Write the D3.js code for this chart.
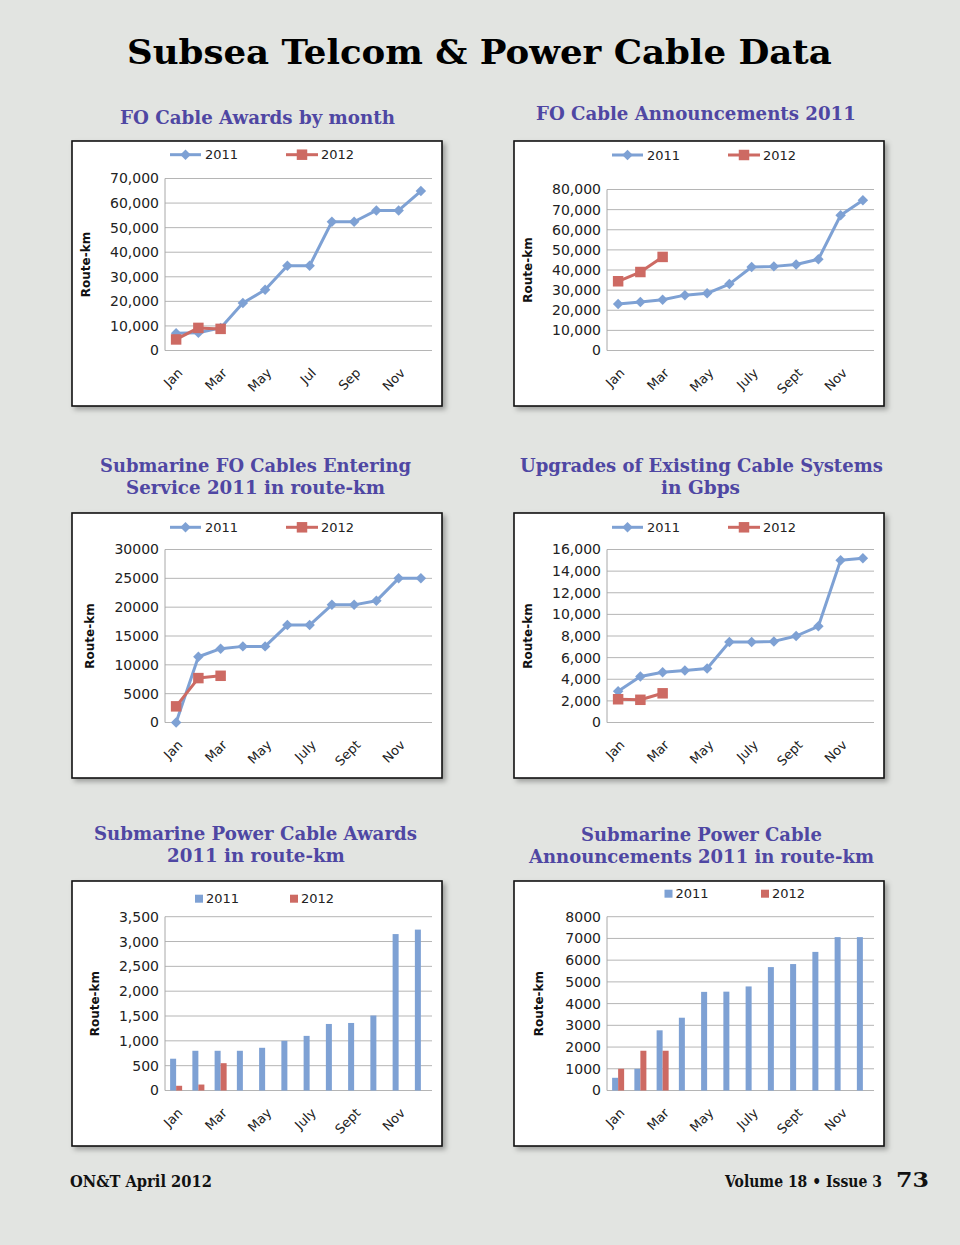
<!DOCTYPE html>
<html>
<head>
<meta charset="utf-8">
<script src="https://cdn.jsdelivr.net/npm/d3@7"></script>
<style>
  body { margin: 0; background: #e2e4e1; }
  svg { display: block; }
</style>
</head>
<body>
<svg id="page" width="960" height="1245"></svg>
<script>
// month categories and the tick labels used by the two label styles
const months = ["Jan", "Feb", "Mar", "Apr", "May", "Jun", "Jul", "Aug", "Sep", "Oct", "Nov", "Dec"];
const monthLabelsShort = ["Jan", "Feb", "Mar", "Apr", "May", "Jun", "Jul", "Aug", "Sep", "Oct", "Nov", "Dec"];
const monthLabelsLong = ["Jan", "Feb", "Mar", "Apr", "May", "June", "July", "Aug", "Sept", "Oct", "Nov", "Dec"];
const seriesNames = ["2011", "2012"];

// FO Cable Awards by month
const awards2011 = [7000, 7200, 9200, 19300, 24700, 34500, 34500, 52400, 52400, 57000, 57000, 64900];
const awards2012 = [4500, 9200, 8800];
// FO Cable Announcements 2011
const announce2011 = [23100, 24100, 25200, 27500, 28400, 33000, 41500, 41800, 42700, 45300, 67200, 74700];
const announce2012 = [34400, 39000, 46500];
// Submarine FO Cables Entering Service
const service2011 = [0, 11400, 12800, 13200, 13200, 16900, 16900, 20400, 20400, 21100, 25000, 25000];
const service2012 = [2800, 7700, 8100];
// Upgrades of Existing Cable Systems
const upgrades2011 = [2900, 4250, 4650, 4800, 5000, 7450, 7450, 7500, 8000, 8900, 15000, 15200];
const upgrades2012 = [2150, 2100, 2700];
// Submarine Power Cable Awards
const powerAwards2011 = [640, 800, 800, 800, 860, 1000, 1100, 1340, 1360, 1510, 3150, 3240];
const powerAwards2012 = [95, 120, 550];
// Submarine Power Cable Announcements
const powerAnn2011 = [585, 1000, 2770, 3350, 4540, 4550, 4790, 5680, 5820, 6380, 7060, 7060];
const powerAnn2012 = [1000, 1830, 1830];

// y axis ranges
const yMax = [70000, 80000, 30000, 16000, 3500, 8000];
const yStep = [10000, 10000, 5000, 2000, 500, 1000];

const c2011 = "#7ea1d4";
const c2012 = "#cd6a63";
const titleColor = "#4f47a3";

const svg = d3.select("#page");

const defs = svg.append("defs");
defs.append("filter")
  .attr("id", "shadow")
  .attr("x", "-5%").attr("y", "-5%")
  .attr("width", "115%").attr("height", "115%")
  .append("feDropShadow")
  .attr("dx", 3).attr("dy", 3)
  .attr("stdDeviation", 2.5)
  .attr("flood-color", "#000")
  .attr("flood-opacity", 0.3);

// serif text squeezed or stretched to the width it has on the page
function fitText(t, x, y, w, size, color) {
  const el = svg.append("text")
    .style("font-family", "DejaVu Serif").style("font-weight", "bold")
    .style("font-size", size + "px").attr("fill", color)
    .text(t);
  const len = el.node().getComputedTextLength();
  el.attr("transform", `translate(${x},${y}) scale(${w / len},1)`);
  return el;
}

// page title
fitText("Subsea Telcom & Power Cable Data", 127, 64, 705, 33, "#000");

const panels = [
  { x: 72, y: 141, type: "line", a: awards2011, b: awards2012, k: 0, fmt: d3.format(","),
    labels: monthLabelsShort, top: 37.5, yTitleX: 13.5, legendY: 13.7,
    title: [{ t: "FO Cable Awards by month", x: 120, y: 123.5, w: 275 }] },
  { x: 514, y: 141, type: "line", a: announce2011, b: announce2012, k: 1, fmt: d3.format(","),
    labels: monthLabelsLong, top: 48.5, yTitleX: 13.5, legendY: 14,
    title: [{ t: "FO Cable Announcements 2011", x: 536, y: 120, w: 320 }] },
  { x: 72, y: 513, type: "line", a: service2011, b: service2012, k: 2, fmt: d3.format("d"),
    labels: monthLabelsLong, top: 36.5, yTitleX: 18, legendY: 14.3,
    title: [{ t: "Submarine FO Cables Entering", x: 100, y: 472, w: 311 },
            { t: "Service 2011 in route-km", x: 126, y: 494, w: 259 }] },
  { x: 514, y: 513, type: "line", a: upgrades2011, b: upgrades2012, k: 3, fmt: d3.format(","),
    labels: monthLabelsLong, top: 36.5, yTitleX: 13.5, legendY: 14.3,
    title: [{ t: "Upgrades of Existing Cable Systems", x: 520, y: 472, w: 363 },
            { t: "in Gbps", x: 661, y: 494, w: 79 }] },
  { x: 72, y: 881, type: "bar", a: powerAwards2011, b: powerAwards2012, k: 4, fmt: d3.format(","),
    labels: monthLabelsLong, top: 35.7, yTitleX: 23, legendY: 17.7, legendX: [123, 218],
    title: [{ t: "Submarine Power Cable Awards", x: 94, y: 840, w: 323 },
            { t: "2011 in route-km", x: 167, y: 862, w: 178 }] },
  { x: 514, y: 881, type: "bar", a: powerAnn2011, b: powerAnn2012, k: 5, fmt: d3.format("d"),
    labels: monthLabelsLong, top: 35.7, yTitleX: 24.5, legendY: 12.7, legendX: [150.5, 247],
    title: [{ t: "Submarine Power Cable", x: 581, y: 841, w: 241 },
            { t: "Announcements 2011 in route-km", x: 529, y: 863, w: 345 }] }
];

const boxW = 370, boxH = 265;
const plotLeft = 93, plotRight = 360, plotBottom = 209.5;

panels.forEach(drawPanel);

function drawPanel(p) {
  // chart title above the box
  p.title.forEach(t => fitText(t.t, t.x, t.y, t.w, 18, titleColor));

  const g = svg.append("g").attr("transform", `translate(${p.x},${p.y})`);

  g.append("rect")
    .attr("width", boxW).attr("height", boxH)
    .attr("fill", "#fff").attr("stroke", "#111").attr("stroke-width", 1.6)
    .attr("filter", "url(#shadow)");

  const x = d3.scaleBand().domain(months).range([plotLeft, plotRight]);
  const y = d3.scaleLinear().domain([0, yMax[p.k]]).range([plotBottom, p.top]);
  const ticks = d3.range(0, yMax[p.k] + 1, yStep[p.k]);

  // gridlines
  g.append("g").selectAll("line").data(ticks).join("line")
    .attr("x1", plotLeft).attr("x2", plotRight)
    .attr("y1", d => y(d)).attr("y2", d => y(d))
    .attr("stroke", "#b5b5b5").attr("stroke-width", 1);
  g.append("line")
    .attr("x1", plotLeft).attr("x2", plotLeft)
    .attr("y1", p.top).attr("y2", plotBottom)
    .attr("stroke", "#a8a8a8");

  // y axis labels
  const yAxis = g.append("g")
    .attr("transform", `translate(${plotLeft},0)`)
    .call(d3.axisLeft(y).tickValues(ticks).tickFormat(p.fmt).tickSize(0).tickPadding(6));
  yAxis.select(".domain").remove();
  yAxis.selectAll("text")
    .style("font-family", "DejaVu Sans").style("font-size", "14px").attr("fill", "#222");

  // x axis labels, every other month, rotated
  const xAxis = g.append("g")
    .attr("transform", `translate(0,${plotBottom})`)
    .call(d3.axisBottom(x).tickSize(0).tickFormat((d, i) => i % 2 === 0 ? p.labels[i] : ""));
  xAxis.select(".domain").remove();
  xAxis.selectAll("text")
    .attr("x", 0).attr("y", 0).attr("dy", "0.35em")
    .attr("text-anchor", "end")
    .attr("transform", "translate(4,20) rotate(-45)")
    .style("font-family", "DejaVu Sans").style("font-size", "13px").attr("fill", "#222");

  // y axis title
  g.append("text")
    .attr("transform", `translate(${p.yTitleX},${(p.top + plotBottom) / 2}) rotate(-90)`)
    .attr("text-anchor", "middle").attr("dy", "0.35em")
    .style("font-family", "DejaVu Sans").style("font-weight", "bold").style("font-size", "12px")
    .attr("fill", "#111")
    .text("Route-km");

  const cx = i => x(months[i]) + x.bandwidth() / 2;

  if (p.type === "line") {
    const line = d3.line().x((d, i) => cx(i)).y(d => y(d));
    [[p.a, c2011, "diamond"], [p.b, c2012, "square"]].forEach(([data, col, shape]) => {
      g.append("path").datum(data)
        .attr("d", line).attr("fill", "none")
        .attr("stroke", col).attr("stroke-width", 3).attr("stroke-linejoin", "round");
      g.append("g").selectAll("path").data(data).join("path")
        .attr("d", d3.symbol(d3.symbolSquare, shape === "diamond" ? 55 : 110))
        .attr("transform", (d, i) => `translate(${cx(i)},${y(d)})` + (shape === "diamond" ? " rotate(45)" : ""))
        .attr("fill", col);
    });

    // legend
    const lg = g.append("g").attr("transform", `translate(0,${p.legendY})`);
    [[98, 129, 133, c2011, "diamond"], [214, 246, 249, c2012, "square"]].forEach(([x1, x2, tx, col, shape], i) => {
      lg.append("line").attr("x1", x1).attr("x2", x2).attr("stroke", col).attr("stroke-width", 3);
      lg.append("path")
        .attr("d", d3.symbol(d3.symbolSquare, shape === "diamond" ? 55 : 110))
        .attr("transform", `translate(${(x1 + x2) / 2},0)` + (shape === "diamond" ? " rotate(45)" : ""))
        .attr("fill", col);
      lg.append("text").attr("x", tx).attr("dy", "0.35em")
        .style("font-family", "DejaVu Sans").style("font-size", "13px").attr("fill", "#222")
        .text(seriesNames[i]);
    });
  } else {
    const bw = x.bandwidth();
    const inner = d3.scaleBand().domain(seriesNames).range([bw * 0.23, bw * 0.77]);
    [[p.a, c2011, "2011"], [p.b, c2012, "2012"]].forEach(([data, col, name]) => {
      g.append("g").selectAll("rect").data(data).join("rect")
        .attr("x", (d, i) => x(months[i]) + inner(name))
        .attr("width", inner.bandwidth())
        .attr("y", d => y(d))
        .attr("height", d => plotBottom - y(d))
        .attr("fill", col);
    });

    const lg = g.append("g").attr("transform", `translate(0,${p.legendY})`);
    [c2011, c2012].forEach((col, i) => {
      lg.append("rect").attr("x", p.legendX[i]).attr("y", -4).attr("width", 8).attr("height", 8).attr("fill", col);
      lg.append("text").attr("x", p.legendX[i] + 11).attr("dy", "0.35em")
        .style("font-family", "DejaVu Sans").style("font-size", "13px").attr("fill", "#222")
        .text(seriesNames[i]);
    });
  }
}

// footer
fitText("ON&T April 2012", 70, 1187, 142, 16, "#111");
fitText("Volume 18 \u2022 Issue 3", 725, 1186.5, 157, 16, "#111");
fitText("73", 896, 1187, 33, 21, "#111");
</script>
</body>
</html>
